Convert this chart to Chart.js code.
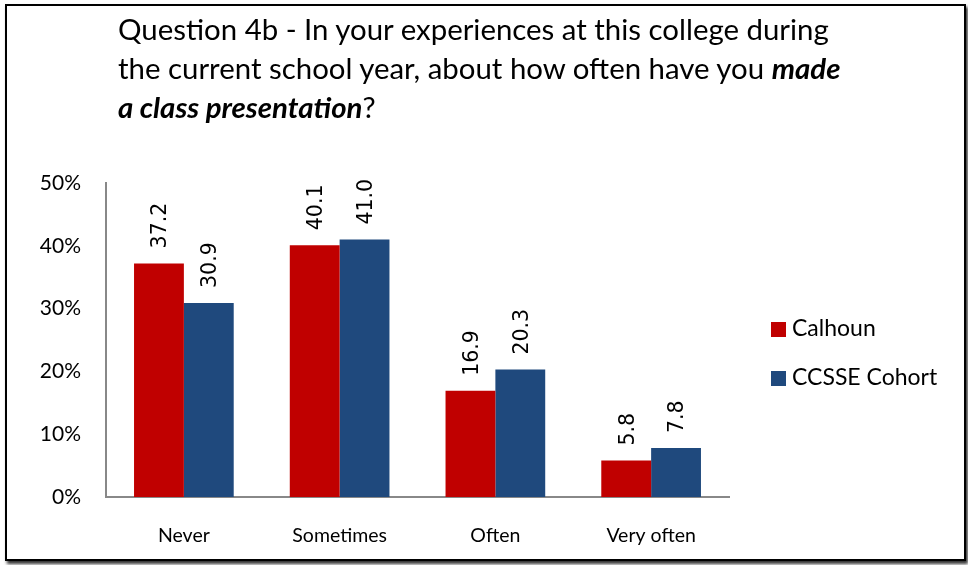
<!DOCTYPE html>
<html>
<head>
<meta charset="utf-8">
<script src="https://cdn.jsdelivr.net/npm/chart.js@4.4.0/dist/chart.umd.min.js"></script>
<style>
  html, body { margin:0; padding:0; background:#fff; }
  #wrap { position:relative; width:968px; height:565px; overflow:hidden; }
  #frame {
    position:absolute; left:5px; top:4px; width:957px; height:553px;
    border:2px solid #000; box-shadow:2px 3px 3px #333;
  }
  #title {
    position:absolute; left:118px; top:9px; width:820px;
    font-family:Lato, "Open Sans", sans-serif; font-size:29.4px; line-height:39px;
    color:#000;
  }
  #title b { font-style:italic; }
  #cv { position:absolute; left:0; top:0; }
</style>
</head>
<body>
<div id="wrap">
  <div id="frame"></div>
  <canvas id="cv" width="968" height="565"></canvas>
  <div id="title">Question 4b - In your experiences at this college during<br>the current school year, about how often have you <b>made</b><br><b>a class presentation</b>?</div>
</div>
<script>
// ===============================
// DATA
// ===============================

const categories = ["Never", "Sometimes", "Often", "Very often"];

const calhoun = [37.2, 40.1, 16.9, 5.8];

const cohort = [30.9, 41.0, 20.3, 7.8];

const seriesNames = ["Calhoun", "CCSSE Cohort"];

const yTicks = [0, 10, 20, 30, 40, 50];

const FONT = "Lato, 'Open Sans', sans-serif";

// ===============================
// PLUGINS
// ===============================

// rotated value labels above bars
const valueLabels = {
    id: "valueLabels",
    afterDatasetsDraw(chart){
        const c = chart.ctx;
        c.save();
        c.font = "20.5px 'DejaVu Sans'";
        c.fillStyle = "#000";
        c.textAlign = "left";
        c.textBaseline = "middle";
        chart.data.datasets.forEach((ds, i) => {
            chart.getDatasetMeta(i).data.forEach((bar, j) => {
                c.save();
                c.translate(bar.x + 2, bar.y - 15);
                c.rotate(-Math.PI / 2);
                c.fillText(ds.data[j].toFixed(1), 0, 0);
                c.restore();
            });
        });
        c.restore();
    }
};

// legend on the right side
const sideLegend = {
    id: "sideLegend",
    afterDraw(chart){
        const c = chart.ctx;
        c.save();
        c.font = "23px " + FONT;
        c.textBaseline = "middle";
        c.textAlign = "left";
        chart.data.datasets.forEach((ds, i) => {
            const y = 329 + i * 49;
            c.fillStyle = ds.backgroundColor;
            c.fillRect(771, y - 7, 15, 15);
            c.fillStyle = "#000";
            c.fillText(ds.label, 792, y);
        });
        c.restore();
    }
};

// ===============================
// CHART
// ===============================

const ctx = document.getElementById("cv").getContext("2d");

const chart = new Chart(ctx, {
    type: "bar",
    data: {
        labels: categories,
        datasets: [{
            label: seriesNames[0],
            data: calhoun,
            backgroundColor: "#C00000",
            categoryPercentage: 0.64,
            barPercentage: 1
        },{
            label: seriesNames[1],
            data: cohort,
            backgroundColor: "#1F497D",
            categoryPercentage: 0.64,
            barPercentage: 1
        }]
    },
    options: {
        responsive: false,
        animation: false,
        layout: {
            padding: { left: 0, right: 239, top: 183, bottom: 0 }
        },
        plugins: {
            legend: { display: false },
            tooltip: { enabled: false }
        },
        scales: {
            x: {
                grid: { display: false, drawTicks: false },
                border: { color: "#888", width: 2 },
                ticks: { color: "#000", font: { family: FONT, size: 19.5 }, padding: 27 },
                afterFit(scale){ scale.height = 68; }
            },
            y: {
                min: 0,
                max: 50,
                afterBuildTicks(scale){
                    scale.ticks = yTicks.map(v => ({ value: v }));
                },
                grid: { display: false, drawTicks: false },
                border: { color: "#888", width: 2 },
                ticks: {
                    color: "#000",
                    font: { family: FONT, size: 21 },
                    padding: 25,
                    callback: v => v + "%"
                },
                afterFit(scale){ scale.width = 106; }
            }
        }
    },
    plugins: [valueLabels, sideLegend]
});
</script>
</body>
</html>
